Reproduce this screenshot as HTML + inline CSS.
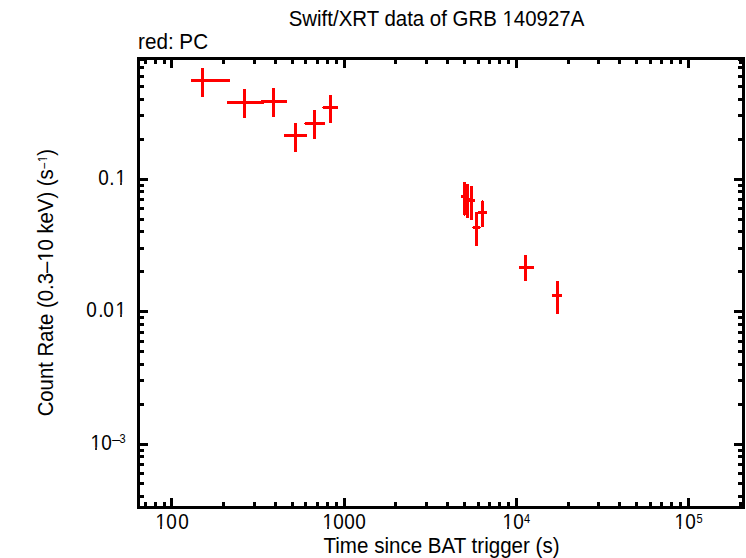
<!DOCTYPE html>
<html><head><meta charset="utf-8"><title>Swift/XRT data of GRB 140927A</title>
<style>html,body{margin:0;padding:0;background:#fff;}svg{display:block;}</style></head>
<body>
<svg width="746" height="558" viewBox="0 0 746 558">
<rect width="746" height="558" fill="#fff"/>
<g shape-rendering="crispEdges">
<rect x="137" y="57" width="608" height="3" fill="#000"/>
<rect x="137" y="506" width="608" height="3" fill="#000"/>
<rect x="137" y="57" width="3" height="452" fill="#000"/>
<rect x="742" y="57" width="3" height="452" fill="#000"/>
<rect x="170" y="498" width="3" height="8" fill="#000"/>
<rect x="170" y="60" width="3" height="8" fill="#000"/>
<rect x="343" y="498" width="3" height="8" fill="#000"/>
<rect x="343" y="60" width="3" height="8" fill="#000"/>
<rect x="515" y="498" width="3" height="8" fill="#000"/>
<rect x="515" y="60" width="3" height="8" fill="#000"/>
<rect x="687" y="498" width="3" height="8" fill="#000"/>
<rect x="687" y="60" width="3" height="8" fill="#000"/>
<rect x="144" y="502" width="3" height="4" fill="#000"/>
<rect x="144" y="60" width="3" height="4" fill="#000"/>
<rect x="154" y="502" width="3" height="4" fill="#000"/>
<rect x="154" y="60" width="3" height="4" fill="#000"/>
<rect x="163" y="502" width="3" height="4" fill="#000"/>
<rect x="163" y="60" width="3" height="4" fill="#000"/>
<rect x="222" y="502" width="3" height="4" fill="#000"/>
<rect x="222" y="60" width="3" height="4" fill="#000"/>
<rect x="253" y="502" width="3" height="4" fill="#000"/>
<rect x="253" y="60" width="3" height="4" fill="#000"/>
<rect x="274" y="502" width="3" height="4" fill="#000"/>
<rect x="274" y="60" width="3" height="4" fill="#000"/>
<rect x="291" y="502" width="3" height="4" fill="#000"/>
<rect x="291" y="60" width="3" height="4" fill="#000"/>
<rect x="304" y="502" width="3" height="4" fill="#000"/>
<rect x="304" y="60" width="3" height="4" fill="#000"/>
<rect x="316" y="502" width="3" height="4" fill="#000"/>
<rect x="316" y="60" width="3" height="4" fill="#000"/>
<rect x="326" y="502" width="3" height="4" fill="#000"/>
<rect x="326" y="60" width="3" height="4" fill="#000"/>
<rect x="335" y="502" width="3" height="4" fill="#000"/>
<rect x="335" y="60" width="3" height="4" fill="#000"/>
<rect x="394" y="502" width="3" height="4" fill="#000"/>
<rect x="394" y="60" width="3" height="4" fill="#000"/>
<rect x="425" y="502" width="3" height="4" fill="#000"/>
<rect x="425" y="60" width="3" height="4" fill="#000"/>
<rect x="446" y="502" width="3" height="4" fill="#000"/>
<rect x="446" y="60" width="3" height="4" fill="#000"/>
<rect x="463" y="502" width="3" height="4" fill="#000"/>
<rect x="463" y="60" width="3" height="4" fill="#000"/>
<rect x="477" y="502" width="3" height="4" fill="#000"/>
<rect x="477" y="60" width="3" height="4" fill="#000"/>
<rect x="488" y="502" width="3" height="4" fill="#000"/>
<rect x="488" y="60" width="3" height="4" fill="#000"/>
<rect x="498" y="502" width="3" height="4" fill="#000"/>
<rect x="498" y="60" width="3" height="4" fill="#000"/>
<rect x="507" y="502" width="3" height="4" fill="#000"/>
<rect x="507" y="60" width="3" height="4" fill="#000"/>
<rect x="567" y="502" width="3" height="4" fill="#000"/>
<rect x="567" y="60" width="3" height="4" fill="#000"/>
<rect x="597" y="502" width="3" height="4" fill="#000"/>
<rect x="597" y="60" width="3" height="4" fill="#000"/>
<rect x="618" y="502" width="3" height="4" fill="#000"/>
<rect x="618" y="60" width="3" height="4" fill="#000"/>
<rect x="635" y="502" width="3" height="4" fill="#000"/>
<rect x="635" y="60" width="3" height="4" fill="#000"/>
<rect x="649" y="502" width="3" height="4" fill="#000"/>
<rect x="649" y="60" width="3" height="4" fill="#000"/>
<rect x="660" y="502" width="3" height="4" fill="#000"/>
<rect x="660" y="60" width="3" height="4" fill="#000"/>
<rect x="670" y="502" width="3" height="4" fill="#000"/>
<rect x="670" y="60" width="3" height="4" fill="#000"/>
<rect x="679" y="502" width="3" height="4" fill="#000"/>
<rect x="679" y="60" width="3" height="4" fill="#000"/>
<rect x="739" y="502" width="3" height="4" fill="#000"/>
<rect x="739" y="60" width="3" height="4" fill="#000"/>
<rect x="140" y="178" width="8" height="3" fill="#000"/>
<rect x="734" y="178" width="8" height="3" fill="#000"/>
<rect x="140" y="310" width="8" height="3" fill="#000"/>
<rect x="734" y="310" width="8" height="3" fill="#000"/>
<rect x="140" y="443" width="8" height="3" fill="#000"/>
<rect x="734" y="443" width="8" height="3" fill="#000"/>
<rect x="140" y="138" width="4" height="3" fill="#000"/>
<rect x="738" y="138" width="4" height="3" fill="#000"/>
<rect x="140" y="114" width="4" height="3" fill="#000"/>
<rect x="738" y="114" width="4" height="3" fill="#000"/>
<rect x="140" y="98" width="4" height="3" fill="#000"/>
<rect x="738" y="98" width="4" height="3" fill="#000"/>
<rect x="140" y="85" width="4" height="3" fill="#000"/>
<rect x="738" y="85" width="4" height="3" fill="#000"/>
<rect x="140" y="75" width="4" height="3" fill="#000"/>
<rect x="738" y="75" width="4" height="3" fill="#000"/>
<rect x="140" y="66" width="4" height="3" fill="#000"/>
<rect x="738" y="66" width="4" height="3" fill="#000"/>
<rect x="140" y="58" width="4" height="3" fill="#000"/>
<rect x="738" y="58" width="4" height="3" fill="#000"/>
<rect x="140" y="270" width="4" height="3" fill="#000"/>
<rect x="738" y="270" width="4" height="3" fill="#000"/>
<rect x="140" y="247" width="4" height="3" fill="#000"/>
<rect x="738" y="247" width="4" height="3" fill="#000"/>
<rect x="140" y="230" width="4" height="3" fill="#000"/>
<rect x="738" y="230" width="4" height="3" fill="#000"/>
<rect x="140" y="218" width="4" height="3" fill="#000"/>
<rect x="738" y="218" width="4" height="3" fill="#000"/>
<rect x="140" y="207" width="4" height="3" fill="#000"/>
<rect x="738" y="207" width="4" height="3" fill="#000"/>
<rect x="140" y="198" width="4" height="3" fill="#000"/>
<rect x="738" y="198" width="4" height="3" fill="#000"/>
<rect x="140" y="190" width="4" height="3" fill="#000"/>
<rect x="738" y="190" width="4" height="3" fill="#000"/>
<rect x="140" y="184" width="4" height="3" fill="#000"/>
<rect x="738" y="184" width="4" height="3" fill="#000"/>
<rect x="140" y="403" width="4" height="3" fill="#000"/>
<rect x="738" y="403" width="4" height="3" fill="#000"/>
<rect x="140" y="379" width="4" height="3" fill="#000"/>
<rect x="738" y="379" width="4" height="3" fill="#000"/>
<rect x="140" y="363" width="4" height="3" fill="#000"/>
<rect x="738" y="363" width="4" height="3" fill="#000"/>
<rect x="140" y="350" width="4" height="3" fill="#000"/>
<rect x="738" y="350" width="4" height="3" fill="#000"/>
<rect x="140" y="340" width="4" height="3" fill="#000"/>
<rect x="738" y="340" width="4" height="3" fill="#000"/>
<rect x="140" y="331" width="4" height="3" fill="#000"/>
<rect x="738" y="331" width="4" height="3" fill="#000"/>
<rect x="140" y="323" width="4" height="3" fill="#000"/>
<rect x="738" y="323" width="4" height="3" fill="#000"/>
<rect x="140" y="316" width="4" height="3" fill="#000"/>
<rect x="738" y="316" width="4" height="3" fill="#000"/>
<rect x="140" y="495" width="4" height="3" fill="#000"/>
<rect x="738" y="495" width="4" height="3" fill="#000"/>
<rect x="140" y="482" width="4" height="3" fill="#000"/>
<rect x="738" y="482" width="4" height="3" fill="#000"/>
<rect x="140" y="472" width="4" height="3" fill="#000"/>
<rect x="738" y="472" width="4" height="3" fill="#000"/>
<rect x="140" y="463" width="4" height="3" fill="#000"/>
<rect x="738" y="463" width="4" height="3" fill="#000"/>
<rect x="140" y="455" width="4" height="3" fill="#000"/>
<rect x="738" y="455" width="4" height="3" fill="#000"/>
<rect x="140" y="449" width="4" height="3" fill="#000"/>
<rect x="738" y="449" width="4" height="3" fill="#000"/>
</g>
<g shape-rendering="crispEdges">
<rect x="191" y="79" width="39" height="3" fill="#f00"/>
<rect x="201" y="68" width="3" height="29" fill="#f00"/>
<rect x="227" y="101" width="37" height="3" fill="#f00"/>
<rect x="243" y="89" width="3" height="29" fill="#f00"/>
<rect x="261" y="100" width="26" height="3" fill="#f00"/>
<rect x="272" y="88" width="3" height="29" fill="#f00"/>
<rect x="284" y="134" width="23" height="3" fill="#f00"/>
<rect x="294" y="123" width="3" height="29" fill="#f00"/>
<rect x="305" y="122" width="20" height="3" fill="#f00"/>
<rect x="313" y="110" width="3" height="29" fill="#f00"/>
<rect x="323" y="106" width="15" height="3" fill="#f00"/>
<rect x="329" y="95" width="3" height="28" fill="#f00"/>
<rect x="461" y="195" width="6" height="3" fill="#f00"/>
<rect x="463" y="182" width="3" height="33" fill="#f00"/>
<rect x="464" y="198" width="7" height="3" fill="#f00"/>
<rect x="466" y="184" width="3" height="34" fill="#f00"/>
<rect x="468" y="199" width="7" height="3" fill="#f00"/>
<rect x="470" y="186" width="3" height="34" fill="#f00"/>
<rect x="473" y="226" width="7" height="3" fill="#f00"/>
<rect x="475" y="212" width="3" height="34" fill="#f00"/>
<rect x="478" y="211" width="9" height="3" fill="#f00"/>
<rect x="481" y="201" width="3" height="26" fill="#f00"/>
<rect x="519" y="266" width="15" height="3" fill="#f00"/>
<rect x="524" y="255" width="3" height="26" fill="#f00"/>
<rect x="552" y="294" width="10" height="3" fill="#f00"/>
<rect x="556" y="281" width="3" height="33" fill="#f00"/>
<rect x="304" y="123" width="1" height="1" fill="#f00"/>
<rect x="322" y="107" width="1" height="1" fill="#f00"/>
<rect x="464" y="215" width="1" height="1" fill="#f00"/>
<rect x="482" y="200" width="1" height="1" fill="#f00"/>
<rect x="472" y="227" width="1" height="1" fill="#f00"/>
<rect x="480" y="227" width="1" height="1" fill="#f00"/>
</g>
<g font-family="'Liberation Sans', Arial, Helvetica, sans-serif" fill="#000">
<g transform="translate(436.5 26) scale(0.9293 1)"><text font-size="22" text-anchor="middle">Swift/XRT data of GRB 140927A</text><rect x="71.70" y="-2.80" width="4.86" height="3.80" fill="#fff"/><rect x="78.50" y="-2.80" width="4.69" height="3.80" fill="#fff"/></g>
<text transform="translate(138 49) scale(0.94 1)" font-size="22" text-anchor="start" >red: PC</text>
<text transform="translate(441.5 553) scale(0.9345 1)" font-size="22" text-anchor="middle" >Time since BAT trigger (s)</text>
<text transform="scale(0.88 1)"><tspan x="176.61" y="529" font-size="21.5">1</tspan><tspan x="188.91" y="529" font-size="21.5">0</tspan><tspan x="202.54" y="529" font-size="21.5">0</tspan></text>
<text transform="scale(0.88 1)"><tspan x="366.38" y="529" font-size="21.5">1</tspan><tspan x="378.68" y="529" font-size="21.5">0</tspan><tspan x="391.18" y="529" font-size="21.5">0</tspan><tspan x="403.68" y="529" font-size="21.5">0</tspan></text>
<text transform="scale(0.88 1)"><tspan x="570.93" y="529" font-size="21.5">1</tspan><tspan x="583.23" y="529" font-size="21.5">0</tspan></text>
<text transform="scale(0.85 1)"><tspan x="616.43" y="523" font-size="13">4</tspan></text>
<text transform="scale(0.88 1)"><tspan x="766.38" y="529" font-size="21.5">1</tspan><tspan x="778.68" y="529" font-size="21.5">0</tspan></text>
<text transform="scale(0.85 1)"><tspan x="819.34" y="523" font-size="13">5</tspan></text>
<text transform="scale(0.88 1)"><tspan x="111.63" y="185" font-size="21.5">0</tspan><tspan x="124.29" y="185" font-size="21.5">.</tspan><tspan x="131.16" y="185" font-size="21.5">1</tspan></text>
<text transform="scale(0.88 1)"><tspan x="98.00" y="317" font-size="21.5">0</tspan><tspan x="111.79" y="317" font-size="21.5">.</tspan><tspan x="117.32" y="317" font-size="21.5">0</tspan><tspan x="131.16" y="317" font-size="21.5">1</tspan></text>
<text transform="scale(0.88 1)"><tspan x="102.75" y="450" font-size="21.5">1</tspan><tspan x="115.04" y="450" font-size="21.5">0</tspan></text>
<text transform="scale(1.27 1)"><tspan x="87.54" y="444.8" font-size="13">−</tspan></text>
<text transform="scale(0.85 1)"><tspan x="140.54" y="443" font-size="13">3</tspan></text>
<g transform="translate(53,282.6) rotate(-90) scale(0.923 1)"><text font-size="22" text-anchor="middle">Count Rate (0.3–10 keV) (s<tspan font-size="13" dy="-3.7">−</tspan><tspan font-size="13" dy="-2.3">1</tspan><tspan dy="6">)</tspan></text><rect x="23.22" y="-2.80" width="4.86" height="3.80" fill="#fff"/><rect x="30.02" y="-2.80" width="4.69" height="3.80" fill="#fff"/><rect x="130.63" y="-7.90" width="2.98" height="2.90" fill="#fff"/><rect x="134.75" y="-7.90" width="2.88" height="2.90" fill="#fff"/></g>
</g>
<g>
<rect x="155.86" y="526.25" width="4.32" height="3.75" fill="#fff"/>
<rect x="161.84" y="526.25" width="4.17" height="3.75" fill="#fff"/>
<rect x="322.86" y="526.25" width="4.32" height="3.75" fill="#fff"/>
<rect x="328.84" y="526.25" width="4.17" height="3.75" fill="#fff"/>
<rect x="502.86" y="526.25" width="4.32" height="3.75" fill="#fff"/>
<rect x="508.84" y="526.25" width="4.17" height="3.75" fill="#fff"/>
<rect x="674.86" y="526.25" width="4.32" height="3.75" fill="#fff"/>
<rect x="680.84" y="526.25" width="4.17" height="3.75" fill="#fff"/>
<rect x="115.86" y="182.25" width="4.32" height="3.75" fill="#fff"/>
<rect x="121.84" y="182.25" width="4.17" height="3.75" fill="#fff"/>
<rect x="115.86" y="314.25" width="4.32" height="3.75" fill="#fff"/>
<rect x="121.84" y="314.25" width="4.17" height="3.75" fill="#fff"/>
<rect x="90.86" y="447.25" width="4.32" height="3.75" fill="#fff"/>
<rect x="96.84" y="447.25" width="4.17" height="3.75" fill="#fff"/>
</g>
</svg>
</body></html>
